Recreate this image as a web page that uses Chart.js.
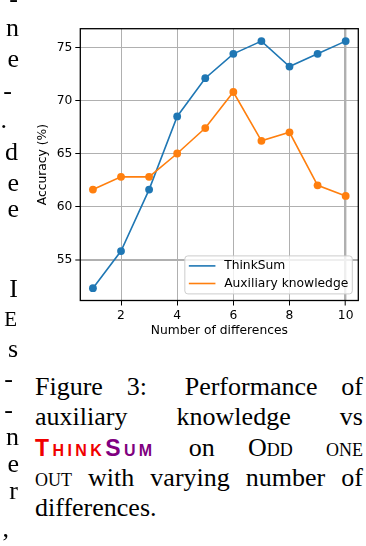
<!DOCTYPE html>
<html>
<head>
<meta charset="utf-8">
<script src="https://cdn.jsdelivr.net/npm/chart.js@4.4.1/dist/chart.umd.min.js"></script>
<style>
  html, body { margin: 0; padding: 0; background: #fff; }
  body { width: 366px; height: 546px; position: relative; overflow: hidden; font-family: 'Liberation Serif', 'Times New Roman', serif; color: #000; }
  #chartCanvas { position: absolute; left: 0; top: 0; }
  .frag { position: absolute; font-size: 26px; line-height: 26px; white-space: nowrap; }
  .capline { position: absolute; left: 35px; width: 328px; font-size: 26px; line-height: 26px; display: flex; justify-content: space-between; align-items: baseline; white-space: nowrap; }
  .capline.last { justify-content: flex-start; }
  .sc { font-variant: small-caps; }
  .tsum { font-family: 'Liberation Sans', Arial, sans-serif; font-weight: bold; font-size: 23px; letter-spacing: 3.4px; font-variant: small-caps; }
  .tsum .red { color: #f00000; }
  .tsum .purple { color: #800080; }
</style>
</head>
<body>
<canvas id="chartCanvas" width="366" height="345"></canvas>
<div id="leftCol"></div>

<div class="capline" style="top:374.2px"><span>Figure</span><span style="margin-right:14px">3:</span><span>Performance</span><span>of</span></div>
<div class="capline" style="top:404.4px"><span>auxiliary</span><span>knowledge</span><span>vs</span></div>
<div class="capline" style="top:434.6px"><span class="tsum"><span class="red">Think</span><span class="purple">Sum</span></span><span>on</span><span class="sc">Odd</span><span class="sc">one</span></div>
<div class="capline" style="top:464.8px"><span class="sc">out</span><span>with</span><span>varying</span><span>number</span><span>of</span></div>
<div class="capline last" style="top:495px"><span>differences.</span></div>

<script>
// data
const numDifferences = [1, 2, 3, 4, 5, 6, 7, 8, 9, 10];
const thinkSumAcc = [52.3, 55.8, 61.6, 68.5, 72.1, 74.4, 75.6, 73.2, 74.4, 75.6];
const auxKnowledgeAcc = [61.6, 62.8, 62.8, 65.0, 67.4, 70.8, 66.2, 67.0, 62.0, 61.0];
const xTickValues = [2, 4, 6, 8, 10];
const yTickValues = [55, 60, 65, 70, 75];
const seriesLabels = ['ThinkSum', 'Auxiliary knowledge'];
const seriesColors = ['#1f77b4', '#ff7f0e'];

// cut-off letters of the neighbouring column: [text, baseline y, right edge x]
const leftFragments = [
  ['-', 8, 18], ['n', 37, 19], ['e', 68, 19], ['-', 100, 12], ['.', 129, 7],
  ['d', 161, 18], ['e', 192, 19], ['e', 218, 19], ['I', 298, 18], ['E', 328, 17],
  ['s', 358, 18], ['-', 388, 13], ['-', 419, 13], ['n', 446, 19], ['e', 473, 19],
  ['r', 500, 18], [',', 538, 9]
];
const leftCol = document.getElementById('leftCol');
leftFragments.forEach(([t, base, edge]) => {
  const s = document.createElement('span');
  s.className = 'frag';
  s.textContent = t;
  if (t === 'E') s.style.fontSize = '21px';
  s.style.top = (base - 21.8) + 'px';
  s.style.right = (366 - edge) + 'px';
  leftCol.appendChild(s);
});

Chart.defaults.font.family = "'DejaVu Sans', sans-serif";
Chart.defaults.font.size = 12.3;
Chart.defaults.color = '#000';

// frame round the plot + matplotlib-style legend inside the axes
const framePlugin = {
  id: 'frame',
  afterDraw(chart) {
    const { ctx, chartArea: a } = chart;
    ctx.save();
    // legend
    ctx.font = "12.3px 'DejaVu Sans', sans-serif";
    const textW = Math.max(...chart.data.datasets.map(d => ctx.measureText(d.label).width));
    const pad = 4, handle = 26.6, gap = 8.7, rowH = 17.6;
    const boxW = pad + handle + gap + textW + pad;
    const boxH = 10 + rowH * (chart.data.datasets.length - 1) + 10.4;
    const bx = a.right - 6 - boxW, by = a.bottom - 6.6 - boxH;
    ctx.beginPath();
    ctx.roundRect(bx, by, boxW, boxH, 3);
    ctx.fillStyle = 'rgba(255,255,255,0.8)';
    ctx.fill();
    ctx.strokeStyle = '#cccccc';
    ctx.lineWidth = 1;
    ctx.stroke();
    chart.data.datasets.forEach((d, i) => {
      const y = by + 10 + i * rowH;
      ctx.beginPath();
      ctx.moveTo(bx + pad, y);
      ctx.lineTo(bx + pad + handle, y);
      ctx.strokeStyle = d.borderColor;
      ctx.lineWidth = 1.6;
      ctx.stroke();
      ctx.fillStyle = '#000';
      ctx.textBaseline = 'middle';
      ctx.fillText(d.label, bx + pad + handle + gap, y);
    });
    // axes frame
    ctx.strokeStyle = '#000';
    ctx.lineWidth = 1.3;
    ctx.strokeRect(a.left, a.top, a.right - a.left, a.bottom - a.top);
    ctx.restore();
  }
};

new Chart(document.getElementById('chartCanvas').getContext('2d'), {
  type: 'line',
  data: {
    datasets: [
      {
        label: seriesLabels[0],
        data: numDifferences.map((x, i) => ({ x: x, y: thinkSumAcc[i] })),
        borderColor: seriesColors[0],
        backgroundColor: seriesColors[0],
        borderWidth: 1.6,
        pointRadius: 3.9,
        pointBorderWidth: 0,
        order: 1
      },
      {
        label: seriesLabels[1],
        data: numDifferences.map((x, i) => ({ x: x, y: auxKnowledgeAcc[i] })),
        borderColor: seriesColors[1],
        backgroundColor: seriesColors[1],
        borderWidth: 1.6,
        pointRadius: 3.9,
        pointBorderWidth: 0,
        order: 0
      }
    ]
  },
  options: {
    responsive: false,
    animation: false,
    events: [],
    layout: {
      padding: { left: 31.6, top: 28.7, right: 7.7, bottom: 2.9 }
    },
    scales: {
      x: {
        type: 'linear',
        min: 0.55,
        max: 10.45,
        afterBuildTicks: s => { s.ticks = xTickValues.map(v => ({ value: v })); },
        afterFit: s => { s.height = 41.6; },
        ticks: { padding: 3, maxRotation: 0, autoSkip: false },
        grid: {
          color: '#b0b0b0',
          lineWidth: c => (c.tick && c.tick.value === 10 ? 2.4 : 1),
          tickColor: '#000',
          tickLength: 5,
          tickWidth: 1
        },
        border: { display: false },
        title: { display: true, text: 'Number of differences', padding: 4 }
      },
      y: {
        min: 51.14,
        max: 76.77,
        afterBuildTicks: s => { s.ticks = yTickValues.map(v => ({ value: v })); },
        afterFit: s => { s.width = 48.7; },
        ticks: { padding: 3 },
        grid: {
          color: '#b0b0b0',
          lineWidth: c => (c.tick && c.tick.value === 55 ? 2 : 1),
          tickColor: '#000',
          tickLength: 5,
          tickWidth: 1
        },
        border: { display: false },
        title: { display: true, text: 'Accuracy (%)', padding: 4 }
      }
    },
    plugins: {
      legend: { display: false },
      tooltip: { enabled: false }
    }
  },
  plugins: [framePlugin]
});
</script>
</body>
</html>
